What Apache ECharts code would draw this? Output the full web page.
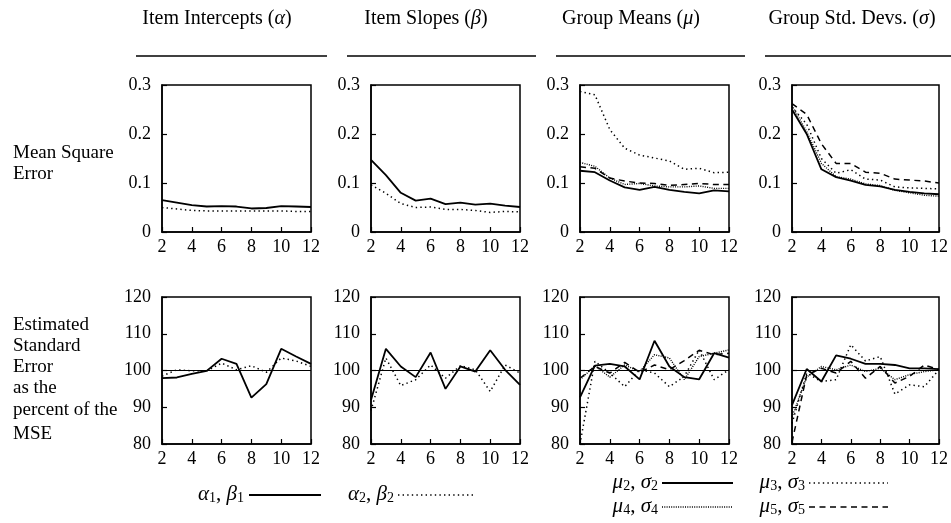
<!DOCTYPE html>
<html>
<head>
<meta charset="utf-8">
<script src="https://cdn.jsdelivr.net/npm/echarts@6/dist/echarts.min.js"></script>
<style>
html,body{margin:0;padding:0;background:#fff;}
#chart{width:951px;height:523px;}
</style>
</head>
<body>
<div id="chart"></div>
<script>
// ---- data ----
const xVals = [2, 3, 4, 5, 6, 7, 8, 9, 10, 11, 12];

// Mean Square Error
const mseAlpha1 = [0.065, 0.060, 0.055, 0.052, 0.053, 0.052, 0.048, 0.049, 0.053, 0.052, 0.051];
const mseAlpha2 = [0.050, 0.047, 0.044, 0.043, 0.043, 0.043, 0.043, 0.043, 0.043, 0.042, 0.042];
const mseBeta1 = [0.147, 0.116, 0.080, 0.064, 0.068, 0.057, 0.060, 0.056, 0.058, 0.054, 0.051];
const mseBeta2 = [0.096, 0.079, 0.058, 0.050, 0.051, 0.046, 0.046, 0.044, 0.040, 0.042, 0.041];
const mseMu2 = [0.125, 0.122, 0.105, 0.091, 0.086, 0.092, 0.086, 0.082, 0.079, 0.085, 0.083];
const mseMu3 = [0.287, 0.280, 0.209, 0.171, 0.157, 0.151, 0.145, 0.128, 0.130, 0.121, 0.122];
const mseMu4 = [0.142, 0.134, 0.110, 0.097, 0.099, 0.094, 0.092, 0.092, 0.094, 0.089, 0.089];
const mseMu5 = [0.133, 0.130, 0.110, 0.104, 0.100, 0.099, 0.095, 0.097, 0.099, 0.097, 0.097];
const mseSigma2 = [0.250, 0.200, 0.128, 0.112, 0.105, 0.096, 0.093, 0.086, 0.082, 0.079, 0.077];
const mseSigma3 = [0.255, 0.220, 0.150, 0.120, 0.127, 0.108, 0.106, 0.092, 0.090, 0.089, 0.088];
const mseSigma4 = [0.258, 0.205, 0.140, 0.113, 0.108, 0.098, 0.095, 0.085, 0.080, 0.075, 0.073];
const mseSigma5 = [0.262, 0.240, 0.180, 0.140, 0.140, 0.122, 0.120, 0.108, 0.106, 0.104, 0.100];

// Estimated standard error as percent of MSE
const eseAlpha1 = [97.9, 98.1, 99.1, 99.9, 103.2, 101.8, 92.6, 96.3, 105.9, 103.8, 101.8];
const eseAlpha2 = [98.5, 100.2, 99.9, 99.9, 102.0, 100.2, 101.3, 99.5, 103.4, 102.6, 101.1];
const eseBeta1 = [92.0, 105.9, 101.1, 98.2, 104.9, 95.0, 101.1, 99.7, 105.5, 100.2, 96.1];
const eseBeta2 = [89.1, 103.4, 95.9, 97.5, 101.5, 97.9, 101.3, 100.2, 94.3, 101.5, 99.3];
const eseMu2 = [92.7, 101.3, 101.8, 101.1, 97.6, 108.1, 101.1, 98.2, 97.6, 104.7, 103.5];
const eseMu3 = [80.0, 102.5, 99.3, 95.6, 100.2, 99.3, 95.6, 98.4, 105.6, 97.5, 100.2];
const eseMu4 = [97.5, 101.3, 98.2, 101.5, 99.7, 104.3, 103.4, 97.5, 103.8, 104.7, 105.6];
const eseMu5 = [97.9, 101.1, 99.3, 102.2, 99.5, 101.5, 100.2, 102.7, 105.5, 104.3, 104.7];
const eseSigma2 = [90.6, 100.4, 97.0, 104.1, 103.2, 101.8, 101.8, 101.5, 100.6, 100.6, 100.4];
const eseSigma3 = [85.6, 99.3, 97.0, 97.5, 107.0, 102.6, 103.8, 93.6, 96.1, 95.6, 100.2];
const eseSigma4 = [87.4, 98.2, 101.1, 100.2, 101.5, 99.7, 100.6, 97.5, 98.9, 99.7, 100.2];
const eseSigma5 = [80.5, 98.8, 100.6, 99.3, 102.5, 97.9, 101.1, 96.6, 98.4, 101.5, 100.2];

const referenceValue = 100;
const topTicks = [0, 0.1, 0.2, 0.3];
const bottomTicks = [80, 90, 100, 110, 120];

// ---- styles ----
const FONT = '"Liberation Serif", "Times New Roman", serif';
const styles = {
  solid:  {type: 'solid', width: 1.8},
  dotted: {type: [1.4, 3.2], width: 1.5},
  dense:  {type: [1, 1.3], width: 1.4},
  dashed: {type: [6, 4.5], width: 1.5}
};

const colLeft = [162, 371, 580, 792];
const rowTop = [85, 297];
const W = 149, H = 147;

const panels = [
  {row: 0, col: 0, lines: [[mseAlpha1, 'solid'], [mseAlpha2, 'dotted']]},
  {row: 0, col: 1, lines: [[mseBeta1, 'solid'], [mseBeta2, 'dotted']]},
  {row: 0, col: 2, lines: [[mseMu2, 'solid'], [mseMu3, 'dotted'], [mseMu4, 'dense'], [mseMu5, 'dashed']]},
  {row: 0, col: 3, lines: [[mseSigma2, 'solid'], [mseSigma3, 'dotted'], [mseSigma4, 'dense'], [mseSigma5, 'dashed']]},
  {row: 1, col: 0, lines: [[eseAlpha1, 'solid'], [eseAlpha2, 'dotted']]},
  {row: 1, col: 1, lines: [[eseBeta1, 'solid'], [eseBeta2, 'dotted']]},
  {row: 1, col: 2, lines: [[eseMu2, 'solid'], [eseMu3, 'dotted'], [eseMu4, 'dense'], [eseMu5, 'dashed']]},
  {row: 1, col: 3, lines: [[eseSigma2, 'solid'], [eseSigma3, 'dotted'], [eseSigma4, 'dense'], [eseSigma5, 'dashed']]}
];

const grid = [], xAxis = [], yAxis = [], series = [];
const axisLabelStyle = {color: '#000', fontFamily: FONT, fontSize: 18};

panels.forEach((p, i) => {
  grid.push({left: colLeft[p.col], top: rowTop[p.row], width: W, height: H,
    show: true, borderColor: '#000', borderWidth: 1.5, backgroundColor: 'transparent'});
  xAxis.push({type: 'value', gridIndex: i, min: 2, max: 12, interval: 2,
    axisLine: {show: true, onZero: false, lineStyle: {color: '#000', width: 1.5}},
    axisTick: {show: true, inside: true, length: 5, lineStyle: {color: '#000', width: 1.2}},
    axisLabel: Object.assign({margin: 6}, axisLabelStyle),
    splitLine: {show: false}});
  const ticks = p.row === 0 ? topTicks : bottomTicks;
  yAxis.push({type: 'value', gridIndex: i, min: ticks[0], max: ticks[ticks.length - 1],
    interval: ticks[1] - ticks[0],
    axisLine: {show: true, lineStyle: {color: '#000', width: 1.5}},
    axisTick: {show: true, inside: true, length: 5, lineStyle: {color: '#000', width: 1.2}},
    axisLabel: Object.assign({margin: 11, formatter: v => p.row === 0 ? (v === 0 ? '0' : v.toFixed(1)) : String(v)}, axisLabelStyle),
    splitLine: {show: false}});
  p.lines.forEach((ln, k) => {
    const s = {
      type: 'line', xAxisIndex: i, yAxisIndex: i, silent: true,
      data: xVals.map((x, j) => [x, ln[0][j]]),
      showSymbol: false, symbol: 'none', animation: false, smooth: false,
      lineStyle: Object.assign({color: '#000', cap: 'butt'}, styles[ln[1]])
    };
    if (p.row === 1 && k === 0) {
      s.markLine = {silent: true, symbol: 'none', animation: false,
        label: {show: false},
        lineStyle: {color: '#000', type: 'solid', width: 1},
        data: [{yAxis: referenceValue}]};
    }
    series.push(s);
  });
});

// ---- text graphics ----
const rich = {
  r: {fontFamily: FONT, fontSize: 20, color: '#000', lineHeight: 24, verticalAlign: 'bottom'},
  i: {fontFamily: FONT, fontSize: 20, fontStyle: 'italic', color: '#000', lineHeight: 24, verticalAlign: 'bottom'},
  L: {fontFamily: FONT, fontSize: 19, color: '#000', lineHeight: 22, verticalAlign: 'bottom'},
  g: {fontFamily: FONT, fontSize: 21, fontStyle: 'italic', color: '#000', lineHeight: 24, verticalAlign: 'bottom'},
  gr: {fontFamily: FONT, fontSize: 21, color: '#000', lineHeight: 24, verticalAlign: 'bottom'},
  n: {fontFamily: FONT, fontSize: 14, color: '#000', lineHeight: 16, verticalAlign: 'bottom'}
};
function txt(text, x, y, align, size) {
  return {type: 'text', x: x, y: y, silent: true,
    style: {text: text, rich: rich, align: align || 'left', verticalAlign: 'middle',
      font: (size || 17) + 'px ' + FONT, fill: '#000'}};
}
function hline(x1, x2, y, dash, w) {
  return {type: 'line', silent: true, shape: {x1: x1, y1: y, x2: x2, y2: y},
    style: {stroke: '#000', lineWidth: w || 1.6, lineDash: dash || null}};
}
const graphics = [];
// column titles
const titles = [
  ['{r|Item Intercepts (}{i|α}{r|)}', 217],
  ['{r|Item Slopes (}{i|β}{r|)}', 426],
  ['{r|Group Means (}{i|μ}{r|)}', 631],
  ['{r|Group Std. Devs. (}{i|σ}{r|)}', 852]
];
titles.forEach(t => graphics.push(txt(t[0], t[1], 17, 'center', 20)));
[[136, 327], [347, 536], [556, 745], [765, 951]].forEach(u => graphics.push(hline(u[0], u[1], 56, null, 1.6)));
// row labels
const rowLabels = [
  ['Mean Square', 152], ['Error', 173],
  ['Estimated', 324], ['Standard', 345], ['Error', 366], ['as the', 387], ['percent of the', 409], ['MSE', 433]
];
rowLabels.forEach(r => graphics.push(txt('{L|' + r[0] + '}', 13, r[1], 'left', 19)));
// legend
const legendItems = [
  ['{g|α}{n|1}{gr|, }{g|β}{n|1}', 244, 493, 249, 321, 'solid'],
  ['{g|α}{n|2}{gr|, }{g|β}{n|2}', 394, 493, 398, 476, 'dotted'],
  ['{g|μ}{n|2}{gr|, }{g|σ}{n|2}', 658, 481, 662, 733, 'solid'],
  ['{g|μ}{n|3}{gr|, }{g|σ}{n|3}', 805, 481, 809, 888, 'dotted'],
  ['{g|μ}{n|4}{gr|, }{g|σ}{n|4}', 658, 505, 662, 733, 'dense'],
  ['{g|μ}{n|5}{gr|, }{g|σ}{n|5}', 805, 505, 809, 888, 'dashed']
];
legendItems.forEach(l => {
  graphics.push(txt(l[0], l[1], l[2], 'right', 21));
  const st = styles[l[5]];
  graphics.push(hline(l[3], l[4], l[2] + 2, Array.isArray(st.type) ? st.type : null, st.width));
});

const chart = echarts.init(document.getElementById('chart'), null, {renderer: 'canvas'});
chart.setOption({
  animation: false,
  backgroundColor: '#fff',
  grid: grid, xAxis: xAxis, yAxis: yAxis, series: series,
  graphic: {elements: graphics}
});
</script>
</body>
</html>
